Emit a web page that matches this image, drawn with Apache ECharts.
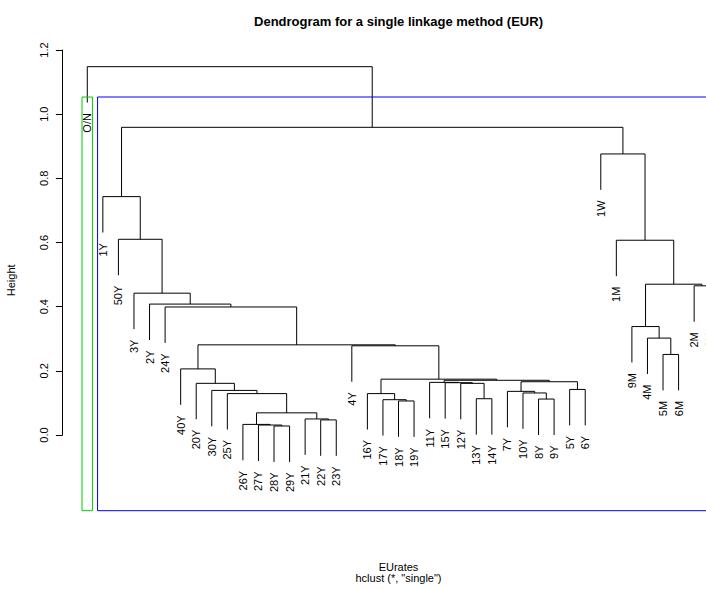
<!DOCTYPE html>
<html>
<head>
<meta charset="utf-8">
<script src="https://cdn.jsdelivr.net/npm/echarts@6/dist/echarts.min.js"></script>
<style>
  html, body { margin: 0; padding: 0; background: #fff; }
  #chart { width: 706px; height: 590px; }
</style>
</head>
<body>
<div id="chart"></div>
<script>
// 叶子顺序（按图中从左到右）
const leafLabels = ['O/N', '1Y', '50Y', '3Y', '2Y', '24Y', '40Y', '20Y', '30Y', '25Y',
  '26Y', '27Y', '28Y', '29Y', '21Y', '22Y', '23Y', '4Y', '16Y', '17Y', '18Y', '19Y',
  '11Y', '15Y', '12Y', '13Y', '14Y', '7Y', '10Y', '8Y', '9Y', '5Y', '6Y',
  '1W', '1M', '9M', '4M', '5M', '6M', '2M', '3M']

// 合并步骤（类似 hclust$merge）：字符串是叶子，数字是之前的合并序号（从1开始）
const mergeLeft = ['28Y', '27Y', '26Y', '22Y', '21Y', 3, '18Y', '17Y', '8Y', '13Y', '25Y', '16Y',
  '10Y', '7Y', '30Y', '5Y', '20Y', '12Y', '15Y', '11Y', 14, 20, 12, '40Y', '5M', '4Y', 24,
  '4M', '9M', '24Y', '2Y', '3Y', '2M', 29, '1M', '50Y', '1Y', '1W', 37, 'O/N']
const mergeRight = ['29Y', 1, 2, '23Y', 4, 5, '19Y', 7, '9Y', '14Y', 6, 8, 9, 13, 11, '6Y', 15,
  10, 18, 19, 16, 21, 22, 17, '6M', 23, 26, 25, 28, 27, 30, 31, '3M', 33, 34, 32, 36, 35, 38, 39]
const mergeHeight = [0.028, 0.031, 0.033, 0.047, 0.050, 0.069, 0.106, 0.110, 0.112, 0.113,
  0.129, 0.129, 0.131, 0.136, 0.139, 0.142, 0.161, 0.161, 0.163, 0.164, 0.166, 0.1705, 0.174,
  0.206, 0.251, 0.278, 0.281, 0.302, 0.338, 0.399, 0.408, 0.442, 0.465, 0.470, 0.607, 0.610,
  0.743, 0.876, 0.959, 1.148]

const yTicks = [0, 0.2, 0.4, 0.6, 0.8, 1.0, 1.2]
const clusterK = 2
const rectColors = ['#00CD00', '#0000FF']

const titleText = 'Dendrogram for a single linkage method (EUR)'
const xLabText = 'EUrates'
const subText = 'hclust (*, "single")'

const FONT = '"Liberation Sans", Arial, Helvetica, sans-serif'

// 布局（像素），右边超出画布，和原图一样被截掉
const plotLeft = 62.4
const plotRight = 734.6
const plotTop = 50
const plotBottom = 510.7
const axisBottom = 435
const yMin = -0.236
const yMax = 1.2
const n = leafLabels.length
const xMin = 1 - 0.04 * (n - 1)
const xMax = n + 0.04 * (n - 1)

// ---- 由数据计算树的坐标 ----
const hang = 0.1 * (Math.max(...mergeHeight) - Math.min(...mergeHeight))
const nodeX = []
function childX(c) {
  return typeof c === 'string' ? leafLabels.indexOf(c) + 1 : nodeX[c - 1]
}
function childBottom(c, h) {
  return typeof c === 'string' ? h - hang : mergeHeight[c - 1]
}
const branchData = []
const leafData = []
mergeHeight.forEach((h, i) => {
  const a = mergeLeft[i], b = mergeRight[i]
  const xa = childX(a), xb = childX(b)
  nodeX.push((xa + xb) / 2)
  branchData.push([xa, childBottom(a, h), xb, childBottom(b, h), h])
  ;[a, b].forEach(c => {
    if (typeof c === 'string') leafData.push([leafLabels.indexOf(c) + 1, h - hang, c])
  })
})

// rect.hclust(k = 2)
function leafRange(c) {
  if (typeof c === 'string') { const p = leafLabels.indexOf(c) + 1; return [p, p] }
  const l = leafRange(mergeLeft[c - 1]), r = leafRange(mergeRight[c - 1])
  return [Math.min(l[0], r[0]), Math.max(l[1], r[1])]
}
const sortedH = mergeHeight.slice().sort((p, q) => q - p)
const cutHeight = (sortedH[clusterK - 2] + sortedH[clusterK - 1]) / 2
const root = mergeHeight.length - 1
const rectData = [mergeLeft[root], mergeRight[root]].map((c, i) => {
  const r = leafRange(c)
  return [r[0] - 0.34, yMin, r[1] + 0.33, cutHeight, i]
})

const myChart = echarts.init(document.getElementById('chart'), null, { renderer: 'svg' })
const centerX = (plotLeft + plotRight) / 2

const option = {
  backgroundColor: '#fff',
  animation: false,
  textStyle: { fontFamily: FONT },
  grid: [
    {
      left: plotLeft, width: plotRight - plotLeft, top: plotTop, height: plotBottom - plotTop,
      outerBoundsMode: 'none', containLabel: false
    },
    {
      left: plotLeft, width: 10, top: plotTop, height: axisBottom - plotTop,
      outerBoundsMode: 'none', containLabel: false
    }
  ],
  xAxis: [
    { type: 'value', gridIndex: 0, min: xMin, max: xMax, show: false },
    { type: 'value', gridIndex: 1, min: 0, max: 1, show: false }
  ],
  yAxis: [
    {
      type: 'value', gridIndex: 0, min: yMin, max: yMax,
      name: 'Height', nameLocation: 'middle', nameGap: 46,
      nameTextStyle: { fontSize: 11, color: '#000', fontFamily: FONT },
      axisLine: { show: false }, axisTick: { show: false },
      axisLabel: { show: false }, splitLine: { show: false }
    },
    {
      type: 'value', gridIndex: 1, min: yTicks[0], max: yTicks[yTicks.length - 1], interval: 0.2,
      axisLine: { show: true, lineStyle: { color: '#000', width: 1 } },
      axisTick: { show: true, length: 6.5, lineStyle: { color: '#000', width: 1 } },
      axisLabel: {
        rotate: 90, margin: 13, fontSize: 11, color: '#000', fontFamily: FONT,
        formatter: v => v.toFixed(1)
      },
      splitLine: { show: false }
    }
  ],
  graphic: [
    {
      type: 'text', x: centerX, y: 21.5,
      style: { text: titleText, font: 'bold 13px ' + FONT, fill: '#000', align: 'center', verticalAlign: 'middle' }
    },
    {
      type: 'text', x: centerX, y: 567,
      style: { text: xLabText, font: '11px ' + FONT, fill: '#000', align: 'center', verticalAlign: 'middle' }
    },
    {
      type: 'text', x: centerX, y: 577.5,
      style: { text: subText, font: '11px ' + FONT, fill: '#000', align: 'center', verticalAlign: 'middle' }
    }
  ],
  series: [
    {
      type: 'custom',
      xAxisIndex: 0, yAxisIndex: 0,
      clip: false,
      silent: true,
      data: branchData,
      encode: { x: [0, 2], y: [1, 3, 4] },
      renderItem(params, api) {
        const p1 = api.coord([api.value(0), api.value(1)])
        const p2 = api.coord([api.value(0), api.value(4)])
        const p3 = api.coord([api.value(2), api.value(4)])
        const p4 = api.coord([api.value(2), api.value(3)])
        return {
          type: 'polyline',
          shape: { points: [p1, p2, p3, p4] },
          style: { stroke: '#000', lineWidth: 1, fill: 'none' }
        }
      }
    },
    {
      type: 'custom',
      xAxisIndex: 0, yAxisIndex: 0,
      clip: false,
      silent: true,
      data: leafData,
      encode: { x: 0, y: 1 },
      renderItem(params, api) {
        const p = api.coord([api.value(0), api.value(1)])
        return {
          type: 'text',
          x: p[0], y: p[1] + 10.5,
          rotation: Math.PI / 2,
          style: {
            text: leafData[params.dataIndex][2],
            font: '11px ' + FONT, fill: '#000',
            align: 'right', verticalAlign: 'middle'
          }
        }
      }
    },
    {
      type: 'custom',
      xAxisIndex: 0, yAxisIndex: 0,
      clip: false,
      silent: true,
      data: rectData,
      encode: { x: [0, 2], y: [1, 3] },
      renderItem(params, api) {
        const a = api.coord([api.value(0), api.value(3)])
        const b = api.coord([api.value(2), api.value(1)])
        return {
          type: 'rect',
          shape: { x: a[0], y: a[1], width: b[0] - a[0], height: b[1] - a[1] },
          style: { stroke: rectColors[api.value(4)], lineWidth: 1, fill: 'none' }
        }
      }
    }
  ]
}
myChart.setOption(option)
</script>
</body>
</html>
